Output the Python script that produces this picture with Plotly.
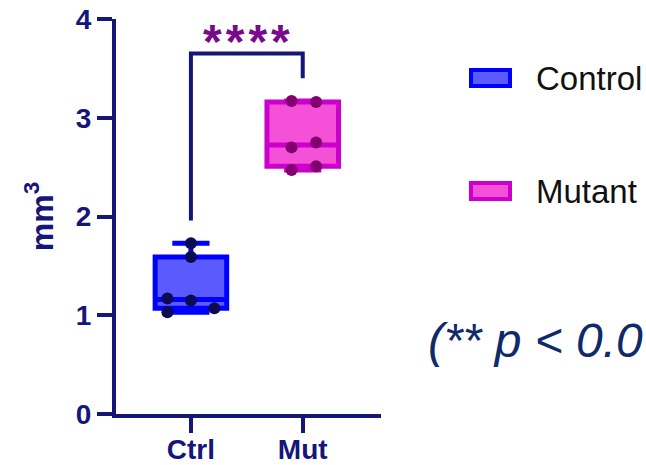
import plotly.graph_objects as go

# Tumour volume per animal (mm^3)
categories = ["Ctrl", "Mut"]
group_names = ["Control", "Mutant"]
ctrl_values = [1.73, 1.59, 1.17, 1.15, 1.03, 1.07]
mut_values = [3.17, 3.16, 2.70, 2.75, 2.47, 2.51]
y_ticks = [0, 1, 2, 3, 4]
significance = "****"
note_text = "(** p < 0.0"

# horizontal spread of the individual dots around each box centre
ctrl_dx = [0.0, 0.0, -0.21, 0.0, -0.21, 0.21]
mut_dx = [-0.10, 0.12, -0.10, 0.12, -0.10, 0.12]

NAVY = "#15157a"
W, H = 646, 465
ML, MR, MT, MB = 116, 265, 19, 51

box_styles = [
    dict(line="#0000ff", fill="#5a5aff", dot="#0c0c52"),
    dict(line="#cc00cc", fill="#f450d8", dot="#82006f"),
]

fig = go.Figure()
for i, (vals, dx, st) in enumerate(
    [(ctrl_values, ctrl_dx, box_styles[0]), (mut_values, mut_dx, box_styles[1])]
):
    fig.add_trace(go.Box(
        x=[i] * len(vals), y=vals, name=group_names[i],
        quartilemethod="exclusive", boxpoints=False,
        width=0.64, whiskerwidth=0.52,
        fillcolor=st["fill"], line=dict(color=st["line"], width=5),
        showlegend=False, hoverinfo="y",
    ))
    fig.add_trace(go.Scatter(
        x=[i + d for d in dx], y=vals, mode="markers",
        marker=dict(color=st["dot"], size=12),
        showlegend=False, hoverinfo="y",
    ))

# significance bracket between the two groups
ctrl_top = max(ctrl_values)
mut_top = max(mut_values)
bracket_y = 3.65
fig.add_trace(go.Scatter(
    x=[0, 0, 1, 1], y=[ctrl_top + 0.23, bracket_y, bracket_y, mut_top + 0.23],
    mode="lines", line=dict(color=NAVY, width=4), showlegend=False, hoverinfo="skip",
))
fig.add_annotation(
    x=0.5, y=3.77, xref="x", yref="y",
    text="<b>" + "\u200a".join(significance) + "</b>", showarrow=False,
    font=dict(family="Liberation Sans", size=48, color="#7a0a8c"),
    yanchor="middle",
)


def px_x(p):
    return (p - ML) / (W - ML - MR)


def px_y(p):
    return (H - MB - p) / (H - MT - MB)


# legend drawn beside the plot
for name, st, cy in zip(group_names, box_styles, [78, 191]):
    fig.add_shape(
        type="rect", xref="paper", yref="paper",
        x0=px_x(471), x1=px_x(510), y0=px_y(cy + 8), y1=px_y(cy - 8),
        line=dict(color=st["line"], width=4), fillcolor=st["fill"],
    )
    fig.add_annotation(
        x=px_x(534), y=px_y(cy), xref="paper", yref="paper", text=name,
        showarrow=False, xanchor="left", yanchor="middle",
        font=dict(family="Liberation Sans", size=33, color="#111111"),
    )

fig.add_annotation(
    x=px_x(426), y=px_y(340), xref="paper", yref="paper", text=f"<i>{note_text}</i>",
    showarrow=False, xanchor="left", yanchor="middle",
    font=dict(family="Liberation Sans", size=48, color="#0f2a6a"),
)

axis_font = dict(family="Liberation Sans", size=28, color=NAVY)
fig.update_layout(
    width=W, height=H,
    margin=dict(l=ML, r=MR, t=MT, b=MB, pad=0, autoexpand=False),
    paper_bgcolor="white", plot_bgcolor="white",
    xaxis=dict(
        range=[-0.67, 1.70], tickmode="array", tickvals=[0, 1],
        ticktext=[f"<b>{c}</b>" for c in categories],
        showline=True, linecolor=NAVY, linewidth=4,
        ticks="outside", ticklen=15, tickwidth=4, tickcolor=NAVY,
        showgrid=False, zeroline=False, tickfont=axis_font, automargin=False,
        ticklabelstandoff=-8,
    ),
    yaxis=dict(
        range=[0, 4], tickmode="array", tickvals=y_ticks,
        ticktext=[f"<b>{t}</b>" for t in y_ticks],
        showline=True, linecolor=NAVY, linewidth=4,
        ticks="outside", ticklen=15, tickwidth=4, tickcolor=NAVY,
        showgrid=False, zeroline=False, tickfont=axis_font, automargin=False,
        title=dict(text="<b>mm<sup>3</sup></b>", standoff=14,
                   font=dict(family="Liberation Sans", size=32, color=NAVY)),
    ),
)

fig.write_html("out.html")
